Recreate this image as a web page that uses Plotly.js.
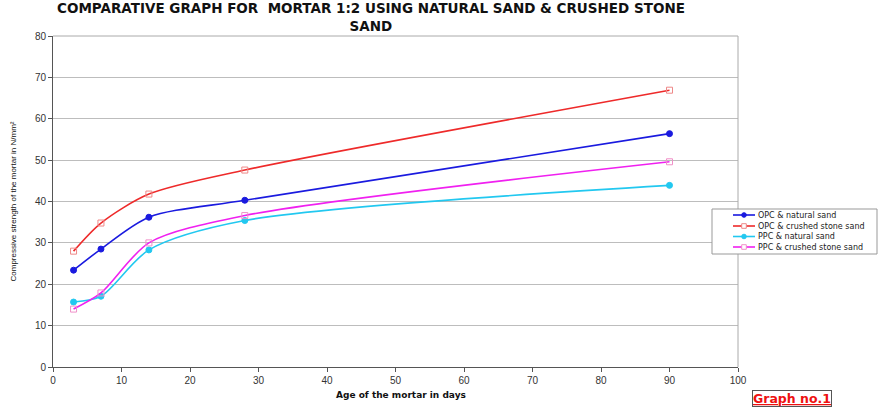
<!DOCTYPE html>
<html><head><meta charset="utf-8">
<script src="https://cdn.plot.ly/plotly-3.0.1.min.js"></script>
<style>body{margin:0;background:#fff}#c{width:881px;height:409px}</style>
</head><body><div id="c"></div>
<script>
const days = [3, 7, 14, 28, 90];
const opcNatural = [23.4, 28.5, 36.2, 40.3, 56.4];
const opcCrushed = [28.0, 34.8, 41.8, 47.6, 66.9];
const ppcNatural = [15.7, 17.1, 28.3, 35.4, 43.9];
const ppcCrushed = [14.0, 17.9, 30.0, 36.6, 49.6];
const names = ["OPC & natural sand", "OPC & crushed stone sand", "PPC & natural sand", "PPC & crushed stone sand"];
const titleText = "COMPARATIVE GRAPH FOR  MORTAR 1:2 USING NATURAL SAND & CRUSHED STONE<br>SAND";

const F = "Liberation Sans, Arial, sans-serif";
const FD = "DejaVu Sans, sans-serif";
const W = 881, H = 409, ML = 53, MR = 143, MT = 36, MB = 42;
const PW = W - ML - MR, PH = H - MT - MB;
const px = x => (x - ML) / PW;
const py = y => (H - MB - y) / PH;

const styles = [
  {line: '#1a1adf', sym: 'circle', mcol: '#1a1adf', lcol: '#1a1adf', open: false},
  {line: '#ee2a2a', sym: 'square-open', mcol: '#ee8888', lcol: '#ee8888', open: true},
  {line: '#22c8f0', sym: 'circle', mcol: '#22c8f0', lcol: '#22c8f0', open: false},
  {line: '#f020f0', sym: 'square-open', mcol: '#f090c8', lcol: '#f090c8', open: true}
];
const series = [opcNatural, opcCrushed, ppcNatural, ppcCrushed];
const data = series.map((y, i) => ({x: days, y: y, name: names[i], type: 'scatter', mode: 'lines+markers',
  line: {shape: 'spline', smoothing: 0.8, color: styles[i].line, width: 1.6},
  marker: {symbol: styles[i].sym, size: 6, color: styles[i].mcol, line: {color: styles[i].lcol, width: 1}}}));

const shapes = [
  {type: 'line', xref: 'paper', yref: 'paper', x0: 0, x1: 1, y0: 1, y1: 1, line: {color: '#aaa', width: 1}},
  {type: 'line', xref: 'paper', yref: 'paper', x0: 1, x1: 1, y0: 0, y1: 1, line: {color: '#aaa', width: 1}},
  {type: 'rect', xref: 'paper', yref: 'paper', x0: px(712), x1: px(877), y0: py(209), y1: py(254),
   line: {color: '#999', width: 1}, fillcolor: '#fff', layer: 'above'}
];
const annotations = [
  {text: '<b>' + titleText + '</b>', xref: 'paper', yref: 'paper', x: px(371), y: py(17), xanchor: 'center', yanchor: 'middle',
   showarrow: false, font: {family: FD, size: 13.5, color: '#111'}},
  {text: '<b>Age of the mortar in days</b>', xref: 'paper', yref: 'paper', x: px(401), y: py(395), xanchor: 'center', yanchor: 'middle',
   showarrow: false, font: {family: FD, size: 9, color: '#111'}},
  {text: '<b><u>Graph no.1</u></b>', xref: 'paper', yref: 'paper', x: px(752), y: py(398), xanchor: 'left', yanchor: 'middle',
   showarrow: false, font: {family: FD, size: 12.5, color: '#e11'}, bordercolor: '#555', borderwidth: 1, borderpad: 0, bgcolor: '#fff'}
];
const itemY = [215, 226, 236.5, 247];
names.forEach((n, i) => {
  const s = styles[i], yy = py(itemY[i]);
  shapes.push({type: 'line', xref: 'paper', yref: 'paper', x0: px(733), x1: px(755), y0: yy, y1: yy,
    line: {color: s.line, width: 1.6}, layer: 'above'});
  const r = 2.3, ry = r / PH, rx = r / PW;
  shapes.push({type: s.open ? 'rect' : 'circle', xref: 'paper', yref: 'paper', x0: px(744) - rx, x1: px(744) + rx,
    y0: yy - ry, y1: yy + ry, line: {color: s.lcol, width: 1}, fillcolor: s.open ? '#fff' : s.mcol, layer: 'above'});
  annotations.push({text: n, xref: 'paper', yref: 'paper', x: px(756), y: yy, xanchor: 'left', yanchor: 'middle',
    showarrow: false, font: {family: FD, size: 8, color: '#222'}});
});

const layout = {
  width: W, height: H,
  margin: {l: ML, r: MR, t: MT, b: MB, autoexpand: false},
  paper_bgcolor: '#fff', plot_bgcolor: '#fff',
  font: {family: F, size: 10, color: '#333'},
  showlegend: false,
  xaxis: {range: [0, 100], dtick: 10, showgrid: false, zeroline: false,
    showline: true, linecolor: '#555', linewidth: 1, ticks: 'outside', ticklen: 4, tickcolor: '#555',
    tickfont: {family: F, size: 10, color: '#333'}},
  yaxis: {range: [0, 80], dtick: 10, showgrid: true, gridcolor: '#bdbdbd', gridwidth: 1, zeroline: false,
    showline: true, linecolor: '#555', linewidth: 1, ticks: 'outside', ticklen: 4, tickcolor: '#555',
    tickfont: {family: F, size: 10, color: '#333'},
    title: {text: 'Compressive strength of the mortar in N/mm²', font: {family: F, size: 8, color: '#111'}, standoff: 17}},
  shapes: shapes,
  annotations: annotations
};
Plotly.newPlot('c', data, layout, {displayModeBar: false, staticPlot: true});
</script></body></html>
